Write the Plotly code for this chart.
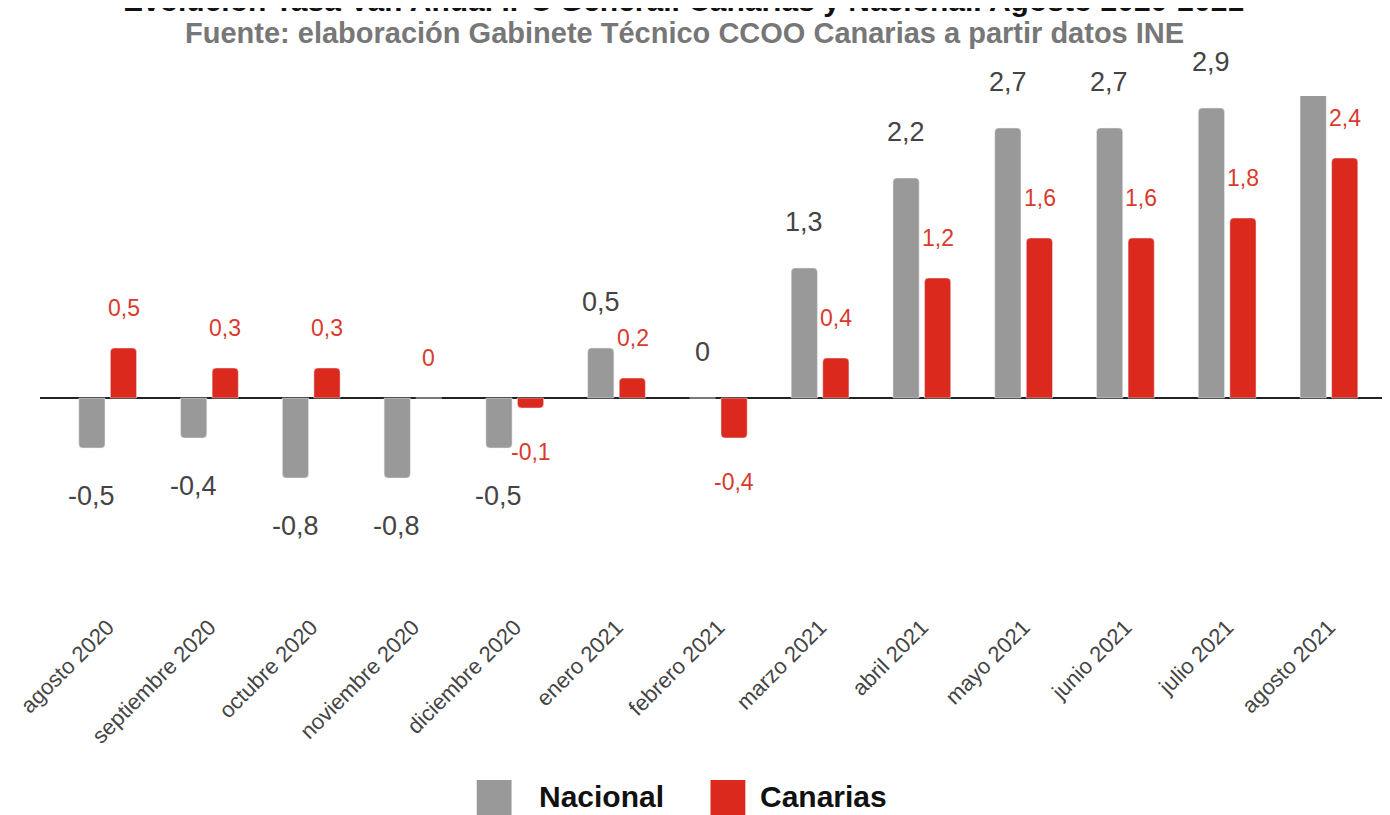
import plotly.graph_objects as go

meses = ['agosto 2020', 'septiembre 2020', 'octubre 2020', 'noviembre 2020', 'diciembre 2020',
         'enero 2021', 'febrero 2021', 'marzo 2021', 'abril 2021', 'mayo 2021',
         'junio 2021', 'julio 2021', 'agosto 2021']
nacional = [-0.5, -0.4, -0.8, -0.8, -0.5, 0.5, 0, 1.3, 2.2, 2.7, 2.7, 2.9, 3.3]
canarias = [0.5, 0.3, 0.3, 0, -0.1, 0.2, -0.4, 0.4, 1.2, 1.6, 1.6, 1.8, 2.4]

GRIS = '#999999'
ROJO = '#DC291E'
FONT = 'Liberation Sans, Arial, sans-serif'

# page has an 8px body margin, plot area: screen x 33..1390, y 96..603
PW, PB = 1357, 603


def px(sx):
    return (sx - 33) / PW


def py(sy):
    return (PB - sy) / 507


fig = go.Figure()
fig.add_trace(go.Bar(x=meses, y=nacional, name='Nacional', marker_color=GRIS, showlegend=False))
fig.add_trace(go.Bar(x=meses, y=canarias, name='Canarias', marker_color=ROJO, showlegend=False))


def fmt(v):
    return f'{v:g}'.replace('.', ',')


anns = []
for m, v in zip(meses, nacional):
    anns.append(dict(x=m, y=v, xref='x', yref='y', text=fmt(v), showarrow=False,
                     xshift=-16, yshift=46 if v >= 0 else -48,
                     font=dict(size=27, color='#444444', family=FONT)))
for m, v in zip(meses, canarias):
    anns.append(dict(x=m, y=v, xref='x', yref='y', text=fmt(v), showarrow=False,
                     xshift=16, yshift=40 if v >= 0 else -44,
                     font=dict(size=23, color='#D93A2E', family=FONT)))

# title (partly cut off at top of the page) and subtitle
anns.append(dict(xref='paper', yref='paper', x=px(680), y=py(1), yanchor='middle',
                 text='<b>Evolución Tasa Var. Anual IPC General. Canarias y Nacional. Agosto 2020-2021</b>',
                 showarrow=False, font=dict(size=30, color='#111111', family=FONT)))
anns.append(dict(xref='paper', yref='paper', x=px(681), y=py(33), yanchor='middle',
                 text='<b>Fuente: elaboración Gabinete Técnico CCOO Canarias a partir datos INE</b>',
                 showarrow=False, font=dict(size=29, color='#777777', family=FONT)))

# legend
shapes = []
for nombre, color, x0, xt in [('Nacional', GRIS, 472, 533), ('Canarias', ROJO, 707, 755)]:
    shapes.append(dict(type='rect', xref='paper', yref='paper',
                       x0=px(x0), x1=px(x0 + 35), y0=py(818), y1=py(780),
                       fillcolor=color, line_width=0, layer='above'))
    anns.append(dict(xref='paper', yref='paper', x=px(xt), y=py(796),
                     xanchor='left', yanchor='middle', text=f'<b>{nombre}</b>', showarrow=False,
                     font=dict(size=30, color='#111111', family=FONT)))

fig.update_layout(
    width=1390, height=815,
    margin=dict(l=25, r=8, t=88, b=220),
    paper_bgcolor='white', plot_bgcolor='white',
    barmode='group', bargap=0.38, bargroupgap=0.17, barcornerradius=4,
    xaxis=dict(range=[-0.665, 12.6], tickangle=-45, showgrid=False, showline=False,
               tickfont=dict(size=22, color='#444444', family=FONT), ticks='',
               ticklabelstandoff=6),
    yaxis=dict(range=[-2.05, 3.02], showgrid=False, showticklabels=False,
               zeroline=True, zerolinecolor='#222222', zerolinewidth=2),
    annotations=anns, shapes=shapes,
    font=dict(family=FONT),
)

fig.write_html('out.html')
